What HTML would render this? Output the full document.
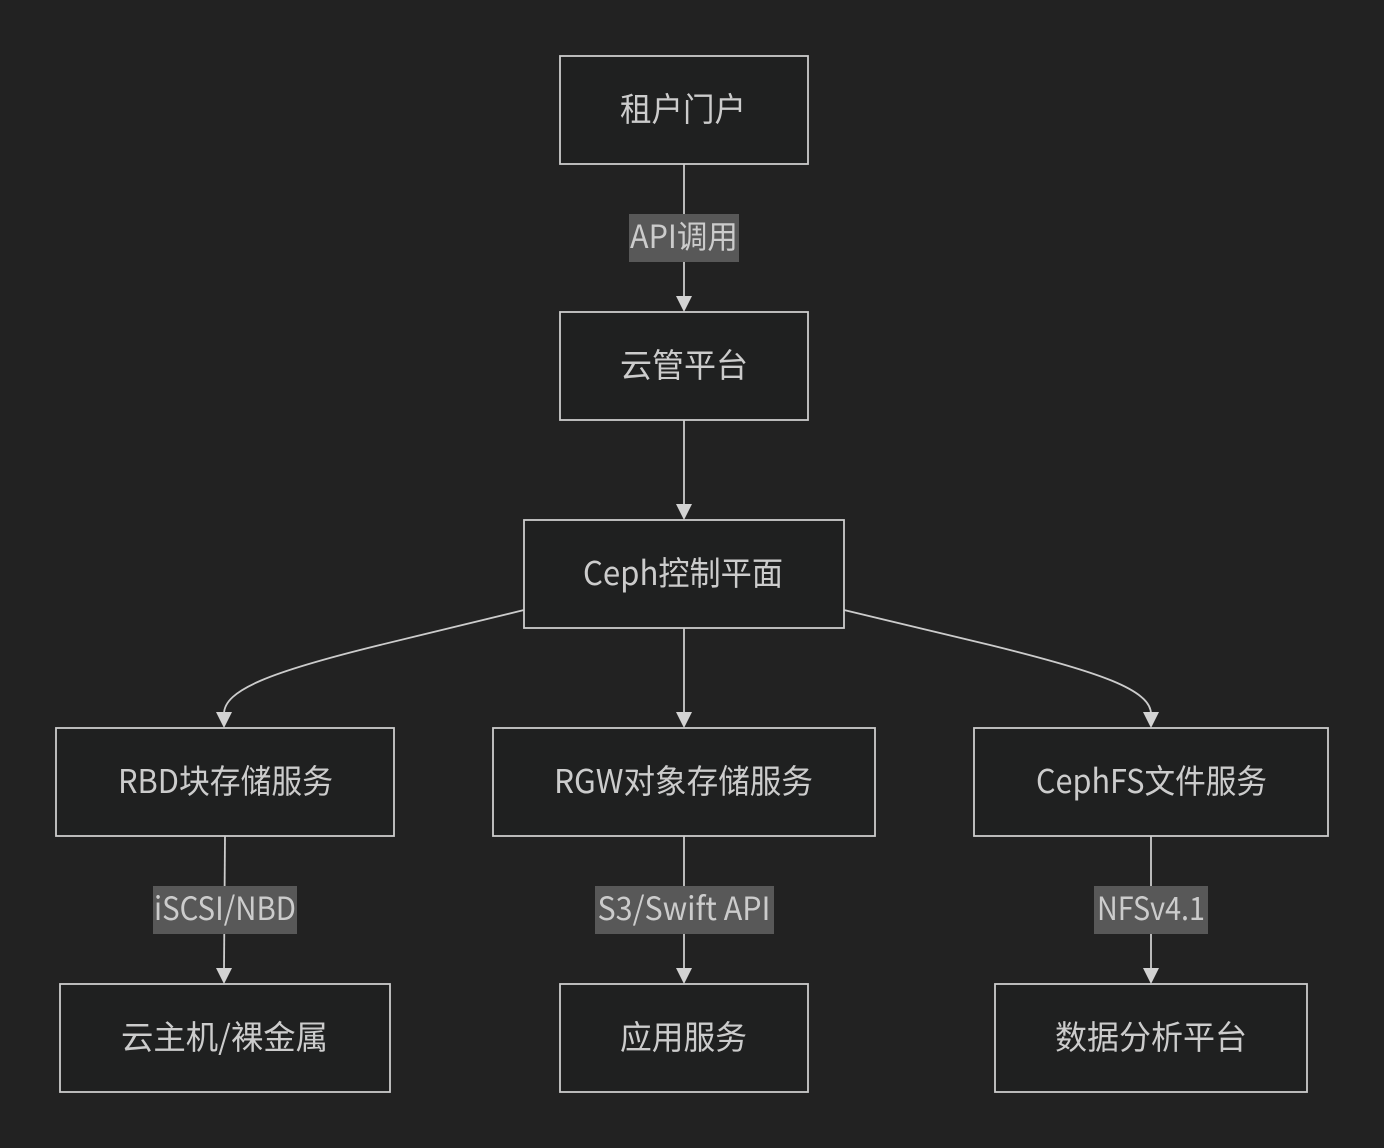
<!DOCTYPE html>
<html>
<head>
<meta charset="utf-8">
<style>
  html, body { margin:0; padding:0; background:#222222; }
  svg { display:block; }
  .n { fill:#1f2020; stroke:#cccccc; stroke-width:1.8; }
  .e { fill:none; stroke:#cccccc; stroke-width:1.8; }
  .a { fill:#d3d3d3; }
  .lb { fill:#585858; }
  text { font-family: "Noto Sans CJK SC", "Liberation Sans", sans-serif; font-size:32px; fill:#cccccc; }
  .nt { font-size:33px; }
</style>
</head>
<body>
<svg width="1384" height="1148" viewBox="0 0 1384 1148" xmlns="http://www.w3.org/2000/svg">
  <rect x="0" y="0" width="1384" height="1148" fill="#222222"/>

  <!-- edges -->
  <line class="e" x1="684" y1="164" x2="684" y2="298"/>
  <polygon class="a" points="676,296 692,296 684,312"/>

  <line class="e" x1="684" y1="420" x2="684" y2="506"/>
  <polygon class="a" points="676,504 692,504 684,520"/>

  <line class="e" x1="684" y1="628" x2="684" y2="714"/>
  <polygon class="a" points="676,712 692,712 684,728"/>

  <path class="e" d="M524,610 L380,645 C270,672 224,690 224,714"/>
  <polygon class="a" points="216,712 232,712 224,728"/>

  <path class="e" d="M844,610 L990,645 C1100,672 1151,690 1151,714"/>
  <polygon class="a" points="1143,712 1159,712 1151,728"/>

  <line class="e" x1="225" y1="836" x2="224" y2="970"/>
  <polygon class="a" points="216,968 232,968 224,984"/>

  <line class="e" x1="684" y1="836" x2="684" y2="970"/>
  <polygon class="a" points="676,968 692,968 684,984"/>

  <line class="e" x1="1151" y1="836" x2="1151" y2="970"/>
  <polygon class="a" points="1143,968 1159,968 1151,984"/>

  <!-- edge labels -->
  <rect class="lb" x="629" y="214" width="110" height="48"/>
  <text x="684" y="248" text-anchor="middle" textLength="108" lengthAdjust="spacingAndGlyphs">API调用</text>

  <rect class="lb" x="153" y="886" width="144" height="48"/>
  <text x="225" y="920" text-anchor="middle" textLength="142" lengthAdjust="spacingAndGlyphs">iSCSI/NBD</text>

  <rect class="lb" x="595" y="886" width="179" height="48"/>
  <text x="684" y="920" text-anchor="middle" textLength="173" lengthAdjust="spacingAndGlyphs">S3/Swift API</text>

  <rect class="lb" x="1094" y="886" width="114" height="48"/>
  <text x="1151" y="920" text-anchor="middle" textLength="108" lengthAdjust="spacingAndGlyphs">NFSv4.1</text>

  <!-- nodes -->
  <rect class="n" x="560" y="56" width="248" height="108"/>
  <text class="nt" x="683" y="121" text-anchor="middle" textLength="126" lengthAdjust="spacingAndGlyphs">租户门户</text>

  <rect class="n" x="560" y="312" width="248" height="108"/>
  <text class="nt" x="684" y="377" text-anchor="middle" textLength="128" lengthAdjust="spacingAndGlyphs">云管平台</text>

  <rect class="n" x="524" y="520" width="320" height="108"/>
  <text class="nt" x="683" y="585" text-anchor="middle" textLength="200" lengthAdjust="spacingAndGlyphs">Ceph控制平面</text>

  <rect class="n" x="56" y="728" width="338" height="108"/>
  <text class="nt" x="225.5" y="793" text-anchor="middle" textLength="215" lengthAdjust="spacingAndGlyphs">RBD块存储服务</text>

  <rect class="n" x="493" y="728" width="382" height="108"/>
  <text class="nt" x="683.5" y="793" text-anchor="middle" textLength="259" lengthAdjust="spacingAndGlyphs">RGW对象存储服务</text>

  <rect class="n" x="974" y="728" width="354" height="108"/>
  <text class="nt" x="1151.5" y="793" text-anchor="middle" textLength="231" lengthAdjust="spacingAndGlyphs">CephFS文件服务</text>

  <rect class="n" x="60" y="984" width="330" height="108"/>
  <text class="nt" x="224.5" y="1049" text-anchor="middle" textLength="207" lengthAdjust="spacingAndGlyphs">云主机/裸金属</text>

  <rect class="n" x="560" y="984" width="248" height="108"/>
  <text class="nt" x="683.5" y="1049" text-anchor="middle" textLength="127" lengthAdjust="spacingAndGlyphs">应用服务</text>

  <rect class="n" x="995" y="984" width="312" height="108"/>
  <text class="nt" x="1151" y="1049" text-anchor="middle" textLength="192" lengthAdjust="spacingAndGlyphs">数据分析平台</text>
</svg>
</body>
</html>
